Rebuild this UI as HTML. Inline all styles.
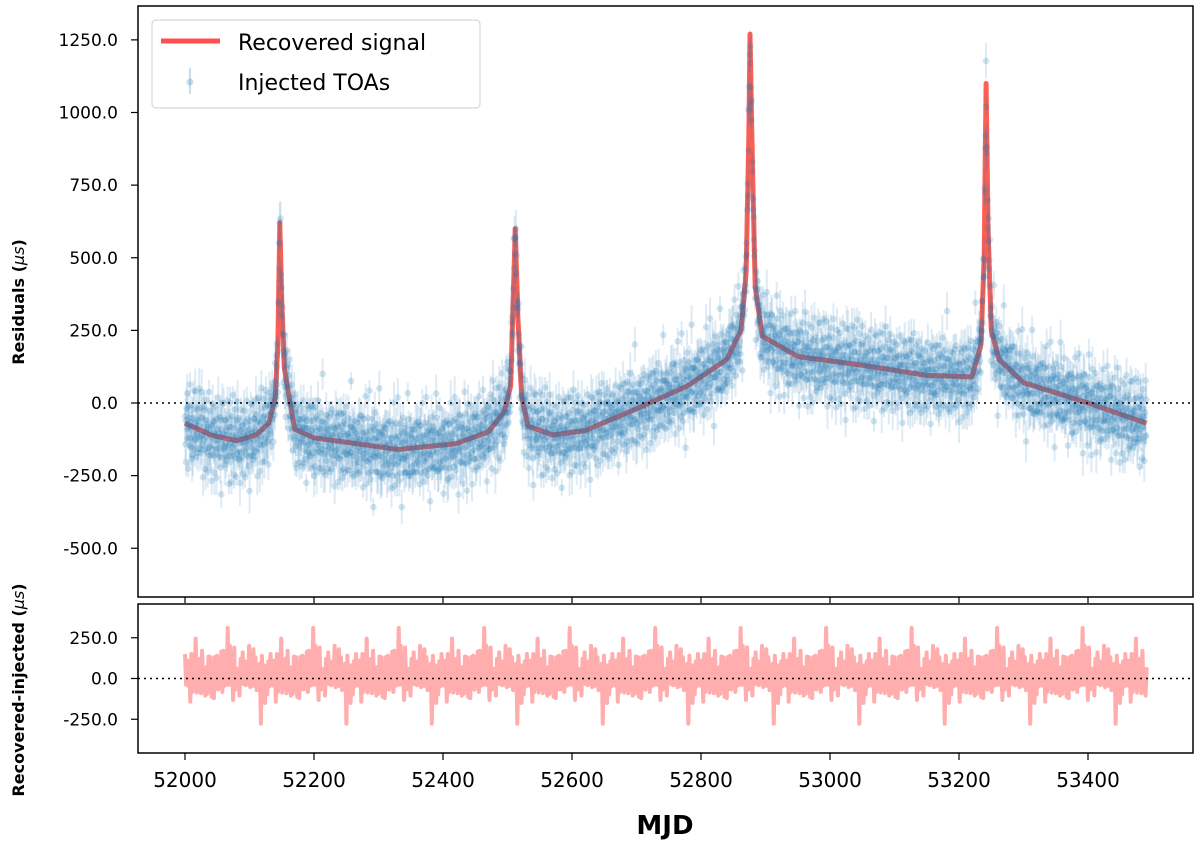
<!DOCTYPE html>
<html><head><meta charset="utf-8"><style>
body{margin:0;background:#fff;}
svg{display:block;font-family:"DejaVu Sans","Liberation Sans",sans-serif;}
</style></head><body>
<svg id="chart" width="1200" height="844" viewBox="0 0 1200 844">
<g id="topPanel"></g>
<g id="botPanel"></g>
</svg>
<script>
// Signal knots (MJD, microseconds)
const signalMjd=[52000,52040,52080,52110,52130,52140,52144,52147,52150,52154,52160,52170,52200,52250,52330,52420,52470,52495,52505,52512,52516,52522,52532,52570,52620,52700,52780,52840,52862,52870,52874,52876,52879,52884,52895,52950,53050,53150,53220,53234,53239,53242,53245,53250,53262,53300,53400,53491];
const signalVal=[-70,-110,-130,-110,-70,20,200,620,350,120,40,-90,-120,-135,-160,-140,-100,-30,60,600,300,20,-80,-110,-95,-20,60,150,250,450,900,1270,900,400,230,160,130,95,90,200,500,1100,600,250,150,70,0,-70];
// Noise offsets (microseconds) for injected TOAs
const toaNoise=[35,-60,12,-95,48,-20,80,-45,5,-120,66,-10,22,-75,101,-38,14,-55,70,-5,-88,30,-140,52,-25,90,-66,18,-32,120,-48,8,-100,44,-15,75,-58,26,-80,10,135,-42,60,-22,-110,38,-70,95,-12,55,-35,-150,20,68,-28,110,-50,2,-90,40,-18,85,-62,28,-105,15,50,-40,160,-30,72,-85,6,-65,45,-125,33,-8,92,-52];
// Recovered minus injected residual values
const diffVal=[150,-80,190,-60,100,-110,60,-50,130,-90,90,-70,170,-40,110,-150,80,-370,120,-60,200,-100,90,-80,140,-120,230,-70,110,-160,60,-90,170,-50,100,-190,220,-140,80,-60,310,-100,150,-80,120,-200,90,-50,180,-110,140,-70,80,-140,200,-60,110,-90,160,-130,70,-80,130,-60,95,-45,175,-125,55,-95,245,-85,105,-65,135,-175,85,-115,165,-55];
const xTicks=[52000,52200,52400,52600,52800,53000,53200,53400];
const yTicksTop=[-500,-250,0,250,500,750,1000,1250];
const yTicksBot=[-250,0,250];

const NS='http://www.w3.org/2000/svg';
function mk(p,t,a){const e=document.createElementNS(NS,t);for(const k in a)e.setAttribute(k,a[k]);p.appendChild(e);return e;}
const X=m=>185+(m-52000)*0.645;
const Yt=v=>403-v*0.2905;
const Yb=v=>678.5-v*0.163;
function sig(m){for(let i=1;i<signalMjd.length;i++){if(m<=signalMjd[i]){const a=signalMjd[i-1],b=signalMjd[i];const t=(m-a)/(b-a);return signalVal[i-1]+t*(signalVal[i]-signalVal[i-1]);}}return signalVal[signalVal.length-1];}

const topG=document.getElementById('topPanel'),botG=document.getElementById('botPanel');
let e=mk(topG,'rect',{x:138,y:6,width:1055,height:591,fill:'none',stroke:'#000','stroke-width':1.5});


e=mk(botG,'rect',{x:138,y:604,width:1055,height:149,fill:'none',stroke:'#000','stroke-width':1.5});



let d='';for(let m=52000;m<=53491;m+=0.5){d+=(d?'L':'M')+X(m).toFixed(1)+','+Yt(sig(m)).toFixed(1);}
e=mk(topG,'path',{d:d,fill:'none',stroke:'#ff2a1a','stroke-opacity':0.75,'stroke-width':5,'stroke-linejoin':'round'});



const pts=mk(topG,'g',{});


let k=0;
for(let m=52000;m<=53491;m+=0.55){
  const n=toaNoise[k%toaNoise.length]*(0.7+0.7*((k*7)%11)/10);
  const v=sig(m)+n,x=X(m),y=Yt(v),err=30+((k*13)%9)*6;k++;
  mk(pts,'line',{x1:x,x2:x,y1:Yt(v+err),y2:Yt(v-err),stroke:'#1f77b4','stroke-opacity':0.15,'stroke-width':2});
  mk(pts,'circle',{cx:x,cy:y,r:3.3,fill:'#1f77b4','fill-opacity':0.2});
}
e=mk(topG,'line',{x1:138,x2:1193,y1:Yt(0),y2:Yt(0),stroke:'#000','stroke-dasharray':'2,4','stroke-width':1.5});



d='';const N=900;
for(let i=0;i<=N;i++){const m=52000+1491*i/N;const v=diffVal[(i*7)%diffVal.length]*(i%2?0.75:1)*(i%5==3?0.6:1);d+=(d?'L':'M')+X(m).toFixed(1)+','+Yb(v).toFixed(1);}
e=mk(botG,'path',{d:d,fill:'none',stroke:'#ff9999','stroke-opacity':0.8,'stroke-width':4,'stroke-linejoin':'round'});


e=mk(botG,'line',{x1:138,x2:1193,y1:Yb(0),y2:Yb(0),stroke:'#000','stroke-dasharray':'2,4','stroke-width':1.5});



xTicks.forEach(t=>{const x=X(t);
  mk(topG,'line',{x1:x,x2:x,y1:597,y2:603,stroke:'#000','stroke-width':1.2});
  mk(botG,'line',{x1:x,x2:x,y1:753,y2:760,stroke:'#000','stroke-width':1.2});
  const tx=mk(botG,'text',{x:x,y:787,'text-anchor':'middle','font-size':20});tx.textContent=t;
  
  });
yTicksTop.forEach(t=>{const y=Yt(t);mk(topG,'line',{x1:131,x2:138,y1:y,y2:y,stroke:'#000','stroke-width':1.2});
  const tx=mk(topG,'text',{x:118,y:y+6,'text-anchor':'end','font-size':17});tx.textContent=t.toFixed(1);
  
  });
yTicksBot.forEach(t=>{const y=Yb(t);mk(botG,'line',{x1:131,x2:138,y1:y,y2:y,stroke:'#000','stroke-width':1.2});
  const tx=mk(botG,'text',{x:118,y:y+6,'text-anchor':'end','font-size':17});tx.textContent=t.toFixed(1);
  
  });

e=mk(topG,'text',{x:0,y:0,transform:'translate(24,302) rotate(-90)','text-anchor':'middle','font-size':16,'font-weight':'bold'});
e.innerHTML='Residuals (<tspan font-style="italic" font-weight="normal">μs</tspan>)';


e=mk(botG,'text',{x:0,y:0,transform:'translate(24,690) rotate(-90)','text-anchor':'middle','font-size':16,'font-weight':'bold'});
e.innerHTML='Recovered-injected (<tspan font-style="italic" font-weight="normal">μs</tspan>)';


e=mk(botG,'text',{x:665,y:834,'text-anchor':'middle','font-size':26,'font-weight':'bold'});e.textContent='MJD';



const lg=mk(topG,'g',{});


mk(lg,'rect',{x:152,y:20,width:328,height:88,rx:4,fill:'#fff','fill-opacity':0.85,stroke:'#ccc'});
mk(lg,'line',{x1:161,x2:220,y1:41,y2:41,stroke:'#ff5050','stroke-width':5});
mk(lg,'line',{x1:190,x2:190,y1:68,y2:94,stroke:'#1f77b4','stroke-opacity':0.25,'stroke-width':2});
mk(lg,'circle',{cx:190,cy:82,r:3.5,fill:'#1f77b4','fill-opacity':0.25});
e=mk(lg,'text',{x:238,y:50,'font-size':22});e.textContent='Recovered signal';


e=mk(lg,'text',{x:238,y:90,'font-size':22});e.textContent='Injected TOAs';


</script>
</body></html>
